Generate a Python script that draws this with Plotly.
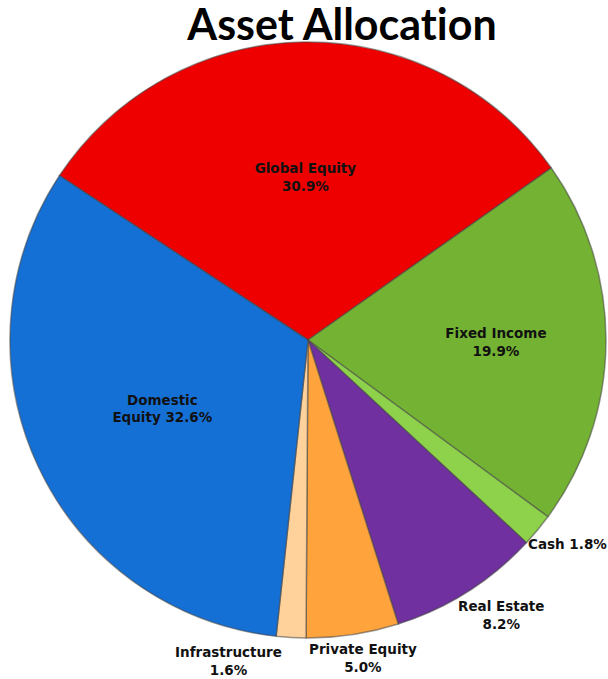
import math
import plotly.graph_objects as go

categories = ["Global Equity", "Fixed Income", "Cash", "Real Estate",
              "Private Equity", "Infrastructure", "Domestic Equity"]
values = [30.9, 19.9, 1.8, 8.2, 5.0, 1.6, 32.6]
label_text = ["Global Equity<br>30.9%", "Fixed Income<br>19.9%", "Cash 1.8%",
              "Real Estate<br>8.2%", "Private Equity<br>5.0%",
              "Infrastructure<br>1.6%", "Domestic<br>Equity 32.6%"]
colors = ["#EE0000", "#74B234", "#8ED24C", "#7030A0",
          "#FFA43C", "#FFD29C", "#1570D6"]
inside = [True, True, False, False, False, False, True]
ROTATION = -56.5
LABEL_FONT = dict(family="DejaVu Sans", size=13.5, color="#111111", weight="bold")

fig = go.Figure(go.Pie(
    labels=categories,
    values=values,
    text=[t if i else "" for t, i in zip(label_text, inside)],
    textinfo="text",
    textposition=["inside" if i else "none" for i in inside],
    insidetextorientation="horizontal",
    textfont=LABEL_FONT,
    marker=dict(colors=colors, line=dict(color="rgba(70,70,70,0.55)", width=1.5)),
    sort=False,
    direction="clockwise",
    rotation=ROTATION,
    showlegend=False,
    automargin=False,
    hoverinfo="label+percent",
))

# Outside labels: anchored at the outer edge of their slice (angle from the data)
total = sum(values)
cum = 0.0
for v, txt, ins in zip(values, label_text, inside):
    mid = math.radians(ROTATION + 360 * (cum + v / 2) / total)
    cum += v
    if ins:
        continue
    s, c = math.sin(mid), math.cos(mid)
    if s < 0:
        xa, xs = "right", -7
    elif s < 0.3:
        xa, xs = "center", 10
    else:
        xa, xs = "left", -12
    fig.add_annotation(
        xref="paper", yref="paper",
        x=0.5 + 0.5 * s, y=0.5 + 0.5 * c,
        xanchor=xa, yanchor="top", xshift=xs, yshift=-4,
        align="center", text=txt, showarrow=False, font=LABEL_FONT,
    )

fig.update_layout(
    width=608, height=679,
    margin=dict(l=10, r=2, t=42, b=41),
    paper_bgcolor="white",
    title=dict(text="<b>Asset Allocat\u200cion</b>", x=0.5625, xanchor="center",
               y=0.964, yanchor="middle",
               font=dict(family="Lato", size=43, color="black")),
)

fig.write_html(
    "out.html",
    config={"displayModeBar": False},
    post_script="document.body.style.margin='0';document.body.style.overflow='hidden';",
)
